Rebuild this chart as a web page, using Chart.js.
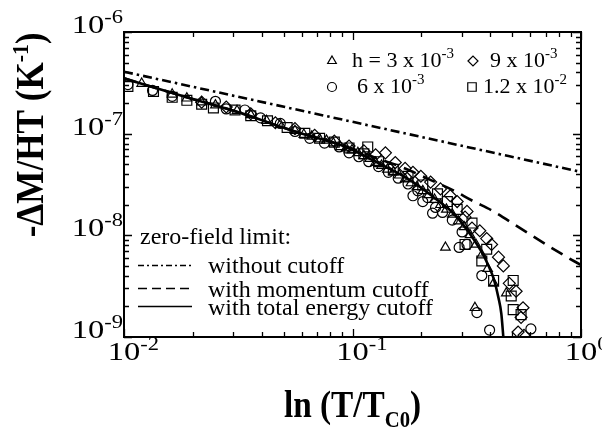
<!DOCTYPE html>
<html><head><meta charset="utf-8">
<script src="https://cdn.jsdelivr.net/npm/chart.js@4.4.1/dist/chart.umd.min.js"></script>
<style>html,body{margin:0;padding:0;background:#fff;}canvas{display:block;}</style>
</head><body>
<canvas id="c" width="602" height="432"></canvas>
<script>
// ---- axis ticks / labels ----
const xMajor = [0.01, 0.1, 1];
const xTickLabels = [["10","-2"],["10","-1"],["10","0"]];
const yMajor = [1e-9, 1e-8, 1e-7, 1e-6];
const yTickLabels = [["10","-9"],["10","-8"],["10","-7"],["10","-6"]];

// ---- data series (markers) ----
const triX = [0.01195,0.01625,0.01884,0.02187,0.02512,0.03124,0.03587,0.04205,0.0483,0.05601,0.06123,0.0663,0.07178,0.07691,0.08244,0.08836,0.09376,0.0995,0.1056,0.1121,0.1189,0.1262,0.134,0.1421,0.1509,0.1601,0.1699,0.1803,0.1913,0.203,0.2154,0.2286,0.2427,0.2575,0.2734,0.29,0.3078,0.3266,0.2551,0.3468,0.368,0.3434,0.3905,0.4145,0.471];
const triY = [3.11e-7,2.44e-7,2.23e-7,2.04e-7,1.91e-7,1.68e-7,1.53e-7,1.34e-7,1.23e-7,1.07e-7,9.8e-8,9.4e-8,8.83e-8,8.6e-8,8.07e-8,7.4e-8,7.2e-8,6.9e-8,6.48e-8,6.05e-8,5.68e-8,5.2e-8,4.86e-8,4.45e-8,4.17e-8,3.9e-8,3.57e-8,3.27e-8,3.0e-8,2.74e-8,2.5e-8,2.25e-8,2.0e-8,1.8e-8,1.61e-8,1.38e-8,1.21e-8,1.01e-8,7.6e-9,8.13e-9,6.4e-9,1.94e-9,4.7e-9,3.37e-9,2.7e-9];

const cirX = [0.0104,0.01333,0.01625,0.02512,0.02802,0.03381,0.0396,0.0483,0.05601,0.065,0.07541,0.08748,0.09658,0.1066,0.1178,0.13,0.1435,0.1585,0.175,0.1839,0.1932,0.203,0.2133,0.2241,0.2309,0.2477,0.2734,0.2929,0.3017,0.317,0.368,0.3503,0.3981,0.6035];
const cirY = [3.04e-7,2.66e-7,2.33e-7,2.08e-7,1.75e-7,1.71e-7,1.43e-7,1.26e-7,1.05e-7,9.0e-8,8.07e-8,7.4e-8,6.48e-8,5.93e-8,5.3e-8,4.75e-8,4.17e-8,3.65e-8,3.2e-8,2.45e-8,2.74e-8,2.15e-8,2.35e-8,1.65e-8,1.88e-8,1.68e-8,1.41e-8,7.6e-9,1.08e-8,8.13e-9,4.02e-9,1.74e-9,1.17e-9,1.2e-9];

const diaX = [0.02187,0.02802,0.03587,0.04597,0.05601,0.06831,0.08326,0.09658,0.1121,0.1262,0.1393,0.1539,0.1699,0.1839,0.1991,0.2197,0.2427,0.2679,0.2871,0.317,0.3108,0.3334,0.3606,0.3866,0.4062,0.4355,0.4572,0.4853,0.5201,0.5576,0.5466,0.5306,0.5631];
const diaY = [2.04e-7,1.83e-7,1.57e-7,1.28e-7,1.12e-7,9.64e-8,8.44e-8,7.56e-8,6.77e-8,6.2e-8,6.48e-8,5.2e-8,4.55e-8,4.17e-8,3.81e-8,3.34e-8,2.86e-8,2.45e-8,2.15e-8,1.72e-8,1.51e-8,1.18e-8,1.11e-8,9.29e-9,8.13e-9,6.1e-9,5.0e-9,3.37e-9,2.82e-9,1.94e-9,1.56e-9,1.12e-9,1.04e-9];

const sqX = [0.0104,0.01346,0.01625,0.01884,0.02187,0.02462,0.03062,0.03587,0.04246,0.05176,0.06184,0.07178,0.08326,0.09658,0.1166,0.1121,0.13,0.1509,0.175,0.203,0.2355,0.2601,0.2871,0.3334,0.3108,0.368,0.3866,0.4145,0.5049,0.495,0.5049,0.5466];
const sqY = [2.91e-7,2.6e-7,2.28e-7,2.13e-7,1.95e-7,1.79e-7,1.71e-7,1.5e-7,1.34e-7,1.15e-7,1.01e-7,9.0e-8,8.25e-8,7.24e-8,7.4e-8,6.34e-8,5.3e-8,4.45e-8,3.81e-8,3.13e-8,2.56e-8,2.15e-8,1.8e-8,1.32e-8,8.13e-9,5.6e-9,7.3e-9,3.6e-9,3.6e-9,2.53e-9,1.86e-9,1.66e-9];

// ---- zero-field limit curves ----
const noCutX = [0.01, 1];
const noCutY = [4.07e-7, 4.2e-8];
const momX = [0.01,0.0188,0.0312,0.056,0.0938,0.1262,0.1699,0.2154,0.2734,0.3334,0.4145,0.531,0.838,1];
const momY = [3.5e-7,2.28e-7,1.64e-7,1.05e-7,7.5e-8,5.8e-8,4.55e-8,3.57e-8,2.8e-8,2.2e-8,1.72e-8,1.21e-8,6.4e-9,5.1e-9];
const totX = [0.01,0.0188,0.0312,0.056,0.0938,0.1262,0.1699,0.203,0.2427,0.2734,0.3078,0.3334,0.368,0.3905,0.4145,0.4355,0.448,0.4572];
const totY = [3.5e-7,2.28e-7,1.64e-7,1.05e-7,7.4e-8,5.3e-8,3.73e-8,2.86e-8,2.1e-8,1.69e-8,1.24e-8,9.7e-9,6.82e-9,5.23e-9,3.77e-9,2.42e-9,1.7e-9,1.0e-9];

const legendSeries = [
  {label: "h = 3 x 10", exp: "-3"},
  {label: "6 x 10", exp: "-3"},
  {label: "9 x 10", exp: "-3"},
  {label: "1.2 x 10", exp: "-2"}
];
const lineLegend = ["without cutoff", "with momentum cutoff", "with total energy cutoff"];
const lineLegendTitle = "zero-field limit:";

const pts = (xs, ys) => xs.map((x, i) => ({x: x, y: ys[i]}));
const SERIF = '"Liberation Serif", "Times New Roman", serif';

function markerDS(xs, ys, style, r) {
  return {type: 'scatter', data: pts(xs, ys), pointStyle: style, pointRadius: r, pointHoverRadius: r,
    borderColor: '#000', backgroundColor: 'rgba(0,0,0,0)', pointBorderWidth: 1.2, borderWidth: 1.2, showLine: false};
}
function lineDS(xs, ys, dash) {
  return {type: 'line', data: pts(xs, ys), borderColor: '#000', borderWidth: 2.6, borderDash: dash,
    pointRadius: 0, fill: false, cubicInterpolationMode: 'monotone', showLine: true};
}

// draws base + superscript; sx = horizontal stretch; align 'base' centers the base text at x
function drawPow(ctx, base, exp, x, y, fs, efs, rise, align, sx) {
  sx = sx || 1;
  ctx.font = fs + 'px ' + SERIF;
  const w1 = ctx.measureText(base).width;
  ctx.font = efs + 'px ' + SERIF;
  const w2 = ctx.measureText(exp).width;
  const tot = (w1 + w2) * sx;
  let x0 = x;
  if (align === 'right') x0 = x - tot;
  else if (align === 'center') x0 = x - tot / 2;
  else if (align === 'base') x0 = x - w1 * sx / 2;
  ctx.save();
  ctx.translate(x0, y);
  ctx.scale(sx, 1);
  ctx.textAlign = 'left'; ctx.textBaseline = 'alphabetic';
  ctx.font = fs + 'px ' + SERIF;
  ctx.fillText(base, 0, 0);
  ctx.font = efs + 'px ' + SERIF;
  ctx.fillText(exp, w1, -rise);
  ctx.restore();
}

// draws a sequence of text parts [text, size, rise] with a horizontal scale
function drawParts(ctx, parts, cx, y, weight, sx) {
  let tot = 0;
  parts.forEach(p => { ctx.font = weight + ' ' + p[1] + 'px ' + SERIF; tot += ctx.measureText(p[0]).width; });
  ctx.save();
  ctx.translate(cx - tot * sx / 2, y);
  ctx.scale(sx, 1);
  let x = 0;
  parts.forEach(p => { ctx.font = weight + ' ' + p[1] + 'px ' + SERIF; ctx.fillText(p[0], x, -p[2]); x += ctx.measureText(p[0]).width; });
  ctx.restore();
}

function drawMarker(ctx, style, x, y, r) {
  ctx.save();
  ctx.fillStyle = 'rgba(0,0,0,0)';
  ctx.strokeStyle = '#000';
  ctx.lineWidth = 1.2;
  Chart.helpers.drawPoint(ctx, {pointStyle: style, radius: r, rotation: 0, borderWidth: 1.2}, x, y);
  ctx.restore();
}

const decor = {
  id: 'decor',
  afterDraw(chart) {
    const ctx = chart.ctx;
    const xs = chart.scales.x, ys = chart.scales.y;
    const {left, right, top, bottom} = chart.chartArea;
    ctx.save();
    ctx.fillStyle = '#000'; ctx.strokeStyle = '#000';
    // frame
    ctx.lineWidth = 2;
    ctx.strokeRect(left, top, right - left, bottom - top);
    // ticks
    ctx.lineWidth = 1.3;
    const minorOf = (majors) => {
      const out = [];
      for (let i = 0; i < majors.length - 1; i++)
        for (let m = 2; m <= 9; m++) out.push(majors[i] * m);
      return out;
    };
    ctx.beginPath();
    const xTickList = xMajor.map(v => [v, 8]).concat(minorOf(xMajor).map(v => [v, 5]));
    xTickList.forEach(([v, len]) => {
      const px = Math.round(xs.getPixelForValue(v)) + 0.5;
      ctx.moveTo(px, bottom); ctx.lineTo(px, bottom - len);
      ctx.moveTo(px, top); ctx.lineTo(px, top + len);
    });
    const yTickList = yMajor.map(v => [v, 8]).concat(minorOf(yMajor).map(v => [v, 5]));
    yTickList.forEach(([v, len]) => {
      const py = Math.round(ys.getPixelForValue(v)) + 0.5;
      ctx.moveTo(left, py); ctx.lineTo(left + len, py);
      ctx.moveTo(right, py); ctx.lineTo(right - len, py);
    });
    ctx.stroke();

    // tick labels
    xMajor.forEach((v, i) => {
      const px = xs.getPixelForValue(v);
      drawPow(ctx, xTickLabels[i][0], xTickLabels[i][1], px, bottom + 23, 26, 18, 10, 'base', 1.25);
    });
    yMajor.forEach((v, i) => {
      const py = ys.getPixelForValue(v);
      drawPow(ctx, yTickLabels[i][0], yTickLabels[i][1], left - 1, py + 1, 26, 18, 10, 'right', 1.25);
    });

    // x title
    drawParts(ctx, [["ln (T/T", 37, 0], ["C0", 23, -10], [")", 37, 0]], (left + right) / 2, 417, 'bold', 0.9);
    // y title
    ctx.save();
    ctx.translate(43, 135);
    ctx.rotate(-Math.PI / 2);
    drawParts(ctx, [["-\u0394M/HT (K", 39, 0], ["-1", 24, 15], [")", 39, 0]], 0, 0, 'bold', 0.9);
    ctx.restore();

    // marker legend (top right)
    drawMarker(ctx, 'triangle', 332, 61, 5);
    drawMarker(ctx, 'circle', 332, 87, 4.5);
    drawMarker(ctx, 'rectRot', 473, 61, 5);
    drawMarker(ctx, 'rect', 472, 87, 6);
    ctx.fillStyle = '#000';
    drawPow(ctx, legendSeries[0].label, legendSeries[0].exp, 352, 67, 22, 15, 9, 'left');
    drawPow(ctx, legendSeries[1].label, legendSeries[1].exp, 357, 93, 22, 15, 9, 'left');
    drawPow(ctx, legendSeries[2].label, legendSeries[2].exp, 490, 67, 22, 15, 9, 'left');
    drawPow(ctx, legendSeries[3].label, legendSeries[3].exp, 483, 93, 22, 15, 9, 'left');

    // line legend (bottom left)
    ctx.font = '24px ' + SERIF;
    ctx.textAlign = 'left'; ctx.textBaseline = 'alphabetic';
    ctx.fillText(lineLegendTitle, 140, 244);
    const rowsY = [265, 288, 306];
    const rowsBase = [273, 297, 315];
    const dashes = [[6, 3, 2, 3], [9, 5], []];
    ctx.lineWidth = 1.3;
    rowsY.forEach((y, i) => {
      ctx.setLineDash(dashes[i]);
      ctx.beginPath(); ctx.moveTo(138, y + 0.5); ctx.lineTo(192, y + 0.5); ctx.stroke();
      ctx.setLineDash([]);
      ctx.font = '24px ' + SERIF;
      ctx.fillText(lineLegend[i], 208, rowsBase[i]);
    });
    ctx.restore();
  }
};

new Chart(document.getElementById('c'), {
  data: {
    datasets: [
      lineDS(noCutX, noCutY, [9, 4, 2.5, 4]),
      lineDS(momX, momY, [13, 8]),
      lineDS(totX, totY, []),
      markerDS(triX, triY, 'triangle', 5.5),
      markerDS(cirX, cirY, 'circle', 5),
      markerDS(diaX, diaY, 'rectRot', 6),
      markerDS(sqX, sqY, 'rect', 7)
    ]
  },
  options: {
    responsive: false,
    animation: false,
    devicePixelRatio: 1,
    layout: {padding: {left: 116, right: 21, top: 32, bottom: 87}},
    plugins: {legend: {display: false}, tooltip: {enabled: false}, title: {display: false}},
    scales: {
      x: {type: 'logarithmic', min: 0.01, max: 1, position: 'bottom',
          grid: {display: false}, border: {display: false}, ticks: {display: false}, title: {display: false}},
      y: {type: 'logarithmic', min: 1e-9, max: 1e-6, position: 'left',
          grid: {display: false}, border: {display: false}, ticks: {display: false}, title: {display: false}}
    }
  },
  plugins: [decor]
});
</script>
</body></html>
